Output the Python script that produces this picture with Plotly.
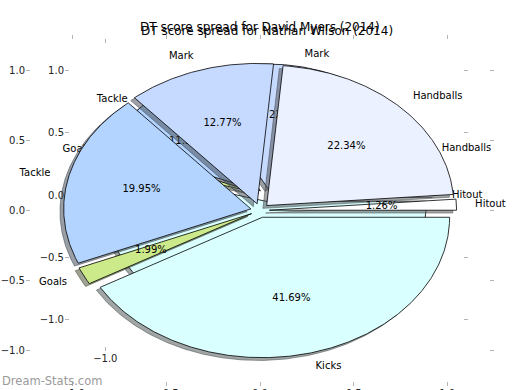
import numpy as np
import plotly.graph_objects as go

# ---------------- data ----------------
CATEGORIES = ["Hitout", "Handballs", "Mark", "Tackle", "Goals", "Kicks"]
DAVID_PCT = [1.26, 22.34, 12.77, 19.95, 1.99, 41.69]     # front pie
NATHAN_PCT = [0.00, 10.62, 22.18, 11.35, 1.52, 54.33]    # back pie
SLICE_COLORS = ["#FFFFFF", "#EBF1FF", "#C6D9FF", "#B3D4FF", "#CDEA8A", "#D9FFFF"]
TITLE_DAVID = "DT score spread for David Myers (2014)"
TITLE_NATHAN = "DT score spread for Nathan Wilson (2014)"
AXIS_TICKS = [-1.0, -0.5, 0.0, 0.5, 1.0]
NATHAN_XTICKS = [-1.0]
EXPLODE = 0.05
SHADOW_OFF = 0.02
W, H = 520, 390

fig = go.Figure()


def hex_rgb(h):
    h = h.lstrip("#")
    return tuple(int(h[i:i + 2], 16) for i in (0, 2, 4))


def add_pie(values, xa, ya):
    total = float(sum(values))
    start = 0.0
    geo = []
    for cat, v, col in zip(CATEGORIES, values, SLICE_COLORS):
        span = 360.0 * v / total
        t1, t2 = start, start + span
        start = t2
        mid = np.deg2rad((t1 + t2) / 2)
        cx, cy = EXPLODE * np.cos(mid), EXPLODE * np.sin(mid)
        arc = np.deg2rad(np.linspace(t1, t2, max(3, int(span * 2) + 2)))
        xs = np.concatenate([[cx], cx + np.cos(arc), [cx]])
        ys = np.concatenate([[cy], cy + np.sin(arc), [cy]])
        geo.append((cat, v, col, mid, cx, cy, xs, ys))
    # shadows
    for cat, v, col, mid, cx, cy, xs, ys in geo:
        r, g, b = hex_rgb(col)
        sc = "rgba(%d,%d,%d,0.5)" % (int(0.3 * r), int(0.3 * g), int(0.3 * b))
        fig.add_trace(go.Scatter(x=xs - SHADOW_OFF, y=ys - SHADOW_OFF, mode="lines",
                                 fill="toself", fillcolor=sc,
                                 line=dict(color=sc, width=1),
                                 xaxis=xa, yaxis=ya, hoverinfo="skip", showlegend=False))
    # wedges
    for cat, v, col, mid, cx, cy, xs, ys in geo:
        fig.add_trace(go.Scatter(x=xs, y=ys, mode="lines", fill="toself", fillcolor=col,
                                 line=dict(color="black", width=0.8),
                                 xaxis=xa, yaxis=ya, hoverinfo="skip", showlegend=False))
    # labels and percentages
    for cat, v, col, mid, cx, cy, xs, ys in geo:
        lx, ly = cx + 1.1 * np.cos(mid), cy + 1.1 * np.sin(mid)
        pos = "middle right" if lx > 0 else "middle left"
        fig.add_trace(go.Scatter(x=[lx], y=[ly], mode="text", text=[cat], textposition=pos,
                                 textfont=dict(family="DejaVu Sans", size=10, color="black"),
                                 cliponaxis=False,
                                 xaxis=xa, yaxis=ya, hoverinfo="skip", showlegend=False))
        px, py = cx + 0.6 * np.cos(mid), cy + 0.6 * np.sin(mid)
        fig.add_trace(go.Scatter(x=[px], y=[py], mode="text", text=["%.2f%%" % v],
                                 textposition="middle center", cliponaxis=False,
                                 textfont=dict(family="DejaVu Sans", size=10, color="black"),
                                 xaxis=xa, yaxis=ya, hoverinfo="skip", showlegend=False))


# back pie (Nathan Wilson) first, front pie (David Myers) second
add_pie(NATHAN_PCT, "x", "y")
add_pie(DAVID_PCT, "x2", "y2")

tick_common = dict(range=[-1.25, 1.25], showgrid=False, zeroline=False, showline=False,
                   ticks="inside", ticklen=4, tickwidth=1, tickcolor="#b4b4b4",
                   mirror="ticks", tickformat=".1f", automargin=False,
                   tickfont=dict(family="DejaVu Sans", size=10, color="#222222"),
                   fixedrange=True)

fig.update_layout(
    width=W, height=H,
    margin=dict(l=0, r=0, t=0, b=0),
    paper_bgcolor="white", plot_bgcolor="rgba(0,0,0,0)",
    showlegend=False,
    xaxis=dict(domain=[65 / W, 468 / W], anchor="y", tickvals=NATHAN_XTICKS, **tick_common),
    yaxis=dict(domain=[(H - 351) / H, (H - 39) / H], anchor="x", tickvals=AXIS_TICKS, **tick_common),
    xaxis2=dict(domain=[26 / W, 494 / W], anchor="y2", tickvals=AXIS_TICKS, **tick_common),
    yaxis2=dict(domain=[(H - 386) / H, (H - 35) / H], anchor="x2", tickvals=AXIS_TICKS, **tick_common),
    annotations=[
        dict(text=TITLE_DAVID, x=260 / W, y=(H - 27.5) / H, xref="paper", yref="paper",
             xanchor="center", yanchor="middle", showarrow=False,
             font=dict(family="DejaVu Sans", size=12, color="black")),
        dict(text=TITLE_NATHAN, x=266.5 / W, y=(H - 30.5) / H, xref="paper", yref="paper",
             xanchor="center", yanchor="middle", showarrow=False,
             font=dict(family="DejaVu Sans", size=12, color="black")),
        dict(text="Dream-Stats.com", x=0, y=(H - 381) / H, xref="paper", yref="paper",
             xanchor="left", yanchor="middle", showarrow=False,
             font=dict(family="DejaVu Sans", size=11.5, color="#9a9a9a")),
    ],
)

fig.write_html("out.html", config={"displayModeBar": False},
               post_script="document.body.style.margin='0';document.body.style.overflow='hidden';")
